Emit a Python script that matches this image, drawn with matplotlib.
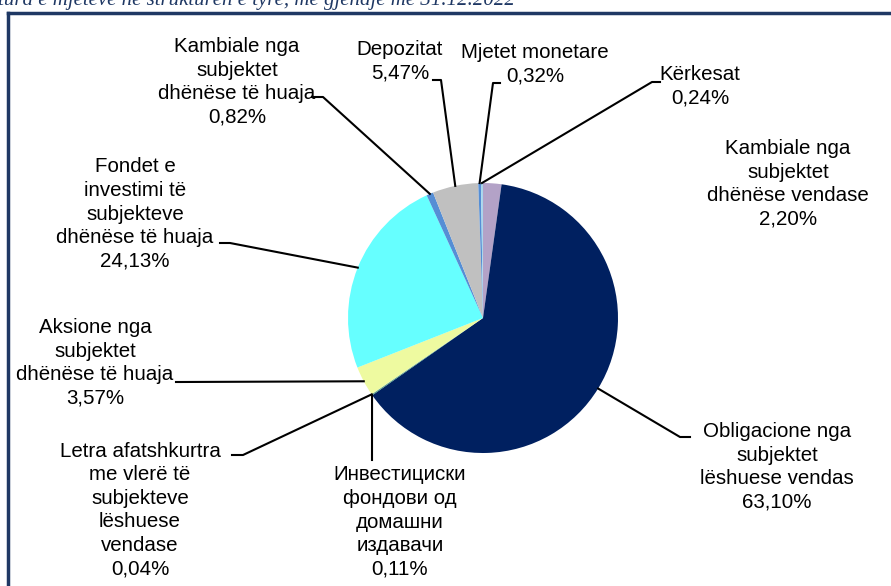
import matplotlib
matplotlib.use("Agg")
import matplotlib.pyplot as plt
import numpy as np
from matplotlib.lines import Line2D

plt.rcParams['font.family'] = ['Liberation Sans', 'DejaVu Sans']

labels = [
    "Kambiale nga\nsubjektet\ndhënëse vendase",
    "Obligacione nga\nsubjektet\nlëshuese vendas",
    "Инвестициски\nфондови од\nдомашни\nиздавачи",
    "Letra afatshkurtra\nme vlerë të\nsubjekteve\nlëshuese\nvendase",
    "Aksione nga\nsubjektet\ndhënëse të huaja",
    "Fondet e\ninvestimi të\nsubjekteve\ndhënëse të huaja",
    "Kambiale nga\nsubjektet\ndhënëse të huaja",
    "Depozitat",
    "Mjetet monetare",
    "Kërkesat",
]
values = [2.20, 63.10, 0.11, 0.04, 3.57, 24.13, 0.82, 5.47, 0.32, 0.24]
pct_labels = ["2,20%", "63,10%", "0,11%", "0,04%", "3,57%", "24,13%", "0,82%", "5,47%", "0,32%", "0,24%"]
colors = ["#b3a2c7", "#002060", "#4f9a78", "#31859c", "#eefaa0", "#66ffff",
          "#558ed5", "#c0c0c0", "#558ed5", "#a9d6ec"]

W, H = 891, 586
fig = plt.figure(figsize=(W / 100, H / 100), dpi=100)

def fx(px):
    return px / W

def fy(py):
    return 1 - py / H

cx, cy, r = 483, 318, 135
ax = fig.add_axes([fx(cx - r), fy(cy + r), 2 * r / W, 2 * r / H])
wedges, _ = ax.pie(values, colors=colors, startangle=90, counterclock=False,
                   wedgeprops=dict(linewidth=0))
ax.set_xlim(-1, 1)
ax.set_ylim(-1, 1)
ax.set_aspect('equal')
ax.axis('off')

# label text centers (pixels) and leader geometry
text_pos = [
    (788, 184), (777, 467), (400, 522), (140, 510), (95, 363),
    (135, 214), (237, 82), (400, 61), (535, 64), (700, 86),
]
# leader polyline start points (pixels); None = no leader
leader = [
    None,
    [(690, 437), (680, 437)],
    [(372, 460)],
    [(232, 455), (243, 455)],
    [(176, 382), (180, 382)],
    [(220, 243), (230, 243)],
    [(312, 97), (323, 97)],
    [(433, 80), (441, 80)],
    [(500, 83), (493, 83)],
    [(660, 82), (652, 82)],
]

total = sum(values)
cum = 0.0
for i, v in enumerate(values):
    mid = cum + v / 2
    cum += v
    ang = np.deg2rad(90 - 360 * mid / total)
    disp = ax.transData.transform((np.cos(ang), np.sin(ang)))
    fig_pt = fig.transFigure.inverted().transform(disp)
    tx, ty = text_pos[i]
    fig.text(fx(tx), fy(ty), labels[i] + "\n" + pct_labels[i], ha='center', va='center',
             fontsize=14.8, linespacing=1.3, color='black')
    if leader[i] is not None:
        xs = [fx(p[0]) for p in leader[i]] + [fig_pt[0]]
        ys = [fy(p[1]) for p in leader[i]] + [fig_pt[1]]
        fig.add_artist(Line2D(xs, ys, color='black', lw=1.5, transform=fig.transFigure))

# frame
fig.add_artist(Line2D([fx(8), fx(8)], [fy(13), 0], color='#1f3864', lw=2.5, transform=fig.transFigure))
fig.add_artist(Line2D([fx(8), 1], [fy(13), fy(13)], color='#1f3864', lw=2.5, transform=fig.transFigure))

# cut-off title (partially above the top edge, as in the reference)
fig.text(fx(515), fy(5), "Struktura e mjeteve në strukturën e tyre, me gjendje më 31.12.2022",
         ha='right', va='baseline', fontsize=15, style='italic', color='#1f3864',
         family='Liberation Serif')

fig.savefig("out.png", dpi=100)
